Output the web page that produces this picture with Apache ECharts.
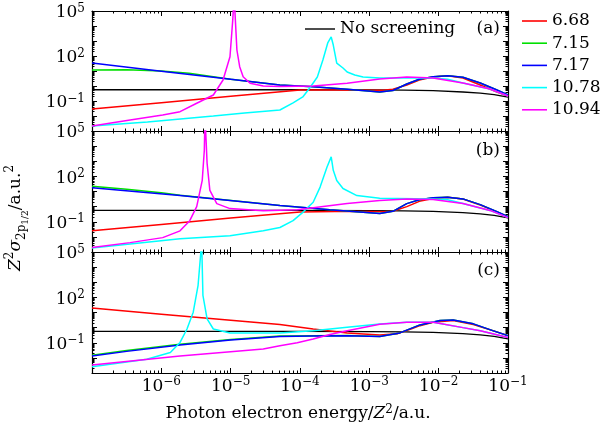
<!DOCTYPE html>
<html>
<head>
<meta charset="utf-8">
<script src="https://cdn.jsdelivr.net/npm/echarts@6/dist/echarts.min.js"></script>
<style>html,body{margin:0;padding:0;background:#fff}#c{width:605px;height:430px}</style>
</head>
<body>
<div id="c"></div>
<script>
// All values below are powers of ten (exponents).
// x = log10(photon energy / Z^2 in a.u.), y = log10(Z^2 sigma in a.u.)
const seriesNames = ['6.68', '7.15', '7.17', '10.78', '10.94'];
const blackName = 'No screening';
const xTickLabelExps = [-6, -5, -4, -3, -2, -1];
const yTickLabelExps = [5, 2, -1];
const panelLetters = ['(a)', '(b)', '(c)'];

// no screening (same in every panel)
const black_x = [-7, -6, -5, -4, -3, -2.5, -2.08, -1.65, -1.4, -1.2, -1];
const black_y = [-0.25, -0.25, -0.25, -0.25, -0.26, -0.28, -0.31, -0.4, -0.48, -0.58, -0.74];

// panel (a)
const a_red_x = [-7, -6, -5, -4, -3.5, -3, -2.8, -2.66, -2.46, -2.28, -2.08, -1.87, -1.65, -1.4, -1.16, -1];
const a_red_y = [-1.53, -1.11, -0.69, -0.27, -0.27, -0.28, -0.29, -0.22, 0.07, 0.4, 0.6, 0.69, 0.53, 0.07, -0.4, -0.67];
const a_green_x = [-7, -6.5, -6, -5.6, -5.25, -5, -4.29, -3.81, -3.32, -2.85, -2.66, -2.46, -2.28, -2.08, -1.87, -1.65, -1.4, -1.16, -1];
const a_green_y = [1.07, 1.08, 1.0, 0.85, 0.62, 0.45, 0.07, -0.05, -0.22, -0.4, -0.3, 0.13, 0.45, 0.62, 0.69, 0.58, 0.2, -0.27, -0.6];
const a_blue_x = [-7, -6, -5, -4.29, -3.81, -3.32, -2.85, -2.66, -2.46, -2.28, -2.08, -1.87, -1.65, -1.4, -1.16, -1];
const a_blue_y = [1.53, 0.99, 0.45, 0.07, -0.05, -0.22, -0.4, -0.3, 0.13, 0.45, 0.62, 0.69, 0.58, 0.2, -0.27, -0.6];
const a_cyan_x = [-7, -6.2, -5.25, -4.8, -4.29, -4.1, -3.96, -3.86, -3.75, -3.67, -3.6, -3.55, -3.52, -3.47, -3.38, -3.32, -3.21, -3.09, -2.85, -2.08, -1.87, -1.65, -1.26, -1];
const a_cyan_y = [-2.67, -2.4, -2.0, -1.8, -1.6, -1.13, -0.73, -0.13, 0.6, 1.73, 2.87, 3.27, 2.73, 1.53, 1.2, 0.93, 0.73, 0.6, 0.53, 0.53, 0.45, 0.2, -0.2, -0.67];
const a_magenta_x = [-7, -6.45, -5.98, -5.73, -5.49, -5.25, -5.11, -5.01, -4.97, -4.95, -4.91, -4.87, -4.82, -4.72, -4.53, -4.29, -3.81, -3.32, -2.85, -2.46, -2.08, -1.65, -1.26, -1];
const a_magenta_y = [-2.67, -2.27, -1.93, -1.71, -1.15, -0.6, 0.4, 1.95, 4.4, 6, 2.4, 1.29, 0.62, 0.18, 0.0, -0.04, 0.0, 0.18, 0.47, 0.6, 0.53, 0.2, -0.2, -0.67];

// panel (b)
const b_red_x = [-7, -6, -5, -4, -3.5, -3, -2.8, -2.66, -2.46, -2.28, -2.08, -1.87, -1.65, -1.4, -1.16, -1];
const b_red_y = [-1.6, -1.18, -0.76, -0.35, -0.33, -0.33, -0.34, -0.3, 0.0, 0.35, 0.53, 0.62, 0.5, 0.1, -0.35, -0.67];
const b_green_x = [-7, -6.5, -6, -5.73, -4.29, -3.57, -2.85, -2.66, -2.46, -2.28, -2.08, -1.87, -1.65, -1.4, -1.16, -1];
const b_green_y = [1.35, 1.15, 0.92, 0.75, 0.07, -0.2, -0.45, -0.31, 0.2, 0.45, 0.58, 0.62, 0.51, 0.13, -0.33, -0.67];
const b_blue_x = [-7, -5.73, -4.29, -3.57, -2.85, -2.66, -2.46, -2.28, -2.08, -1.87, -1.65, -1.4, -1.16, -1];
const b_blue_y = [1.25, 0.73, 0.07, -0.2, -0.45, -0.31, 0.2, 0.45, 0.58, 0.62, 0.51, 0.13, -0.33, -0.67];
const b_cyan_x = [-7, -6.45, -5.73, -5.01, -4.53, -4.29, -4.1, -3.96, -3.81, -3.71, -3.61, -3.55, -3.52, -3.47, -3.38, -3.18, -2.85, -2.08, -1.87, -1.65, -1.26, -1];
const b_cyan_y = [-2.73, -2.47, -2.13, -1.93, -1.6, -1.38, -0.93, -0.38, 0.29, 1.29, 2.62, 3.29, 2.4, 1.73, 1.2, 0.73, 0.55, 0.51, 0.45, 0.2, -0.25, -0.73];
const b_magenta_x = [-7, -6.45, -5.98, -5.73, -5.59, -5.49, -5.41, -5.38, -5.37, -5.34, -5.30, -5.2, -5.01, -4.53, -4.04, -3.81, -3.32, -2.85, -2.46, -2.08, -1.65, -1.26, -1];
const b_magenta_y = [-2.71, -2.38, -2.05, -1.6, -0.93, 0.0, 1.73, 3.73, 6, 2.87, 1.07, 0.2, -0.13, -0.27, -0.2, -0.07, 0.2, 0.4, 0.51, 0.47, 0.2, -0.25, -0.73];

// panel (c)
const c_red_x = [-7, -6, -5, -4.29, -3.81, -3.32, -2.85, -2.6, -2.4, -2.27, -2.08, -1.79, -1.5, -1.22, -1];
const c_red_y = [1.29, 0.88, 0.48, 0.2, -0.09, -0.35, -0.49, -0.4, -0.1, 0.13, 0.35, 0.47, 0.2, -0.2, -0.53];
const c_green_x = [-7, -6.5, -5.73, -5, -4.29, -3.81, -3.32, -2.85, -2.56, -2.27, -1.98, -1.79, -1.5, -1.22, -1];
const c_green_y = [-1.82, -1.52, -1.1, -0.78, -0.55, -0.53, -0.52, -0.58, -0.35, 0.18, 0.47, 0.51, 0.25, -0.2, -0.53];
const c_blue_x = [-7, -6.5, -5.73, -5, -4.29, -3.81, -3.32, -2.85, -2.56, -2.27, -1.98, -1.79, -1.5, -1.22, -1];
const c_blue_y = [-1.87, -1.57, -1.15, -0.82, -0.58, -0.55, -0.53, -0.58, -0.35, 0.18, 0.47, 0.51, 0.25, -0.2, -0.53];
const c_cyan_x = [-7, -6.21, -5.87, -5.73, -5.63, -5.54, -5.47, -5.43, -5.42, -5.40, -5.34, -5.25, -5.01, -4.29, -3.81, -3.32, -2.85, -2.46, -2.08, -1.65, -1.4, -1];
const c_cyan_y = [-2.58, -2.09, -1.64, -0.98, -0.09, 1.02, 2.8, 5.0, 6, 2.13, 0.58, -0.09, -0.35, -0.35, -0.2, 0.02, 0.24, 0.35, 0.35, 0.0, -0.2, -0.65];
const c_magenta_x = [-7, -5.73, -4.53, -4.29, -4.04, -3.81, -3.57, -3.32, -2.85, -2.46, -2.08, -1.65, -1.4, -1];
const c_magenta_y = [-2.47, -1.87, -1.42, -1.2, -1.0, -0.75, -0.45, -0.2, 0.22, 0.35, 0.35, 0.0, -0.2, -0.65];

const panels = [
  {red: [a_red_x, a_red_y], green: [a_green_x, a_green_y], blue: [a_blue_x, a_blue_y], cyan: [a_cyan_x, a_cyan_y], magenta: [a_magenta_x, a_magenta_y]},
  {red: [b_red_x, b_red_y], green: [b_green_x, b_green_y], blue: [b_blue_x, b_blue_y], cyan: [b_cyan_x, b_cyan_y], magenta: [b_magenta_x, b_magenta_y]},
  {red: [c_red_x, c_red_y], green: [c_green_x, c_green_y], blue: [c_blue_x, c_blue_y], cyan: [c_cyan_x, c_cyan_y], magenta: [c_magenta_x, c_magenta_y]}
];

const FONT = 'DejaVu Serif';
const FS = 17, FS_SUP = 12;
const X_MIN = -7, X_MAX = -1, Y_MIN = -3, Y_MAX = 5;
const gridTops = [11, 131, 252];
const gridHeights = [120, 121, 121];
const colors = {red: '#ff0000', green: '#00e000', blue: '#0000ff', cyan: '#00ffff', magenta: '#ff00ff'};
const colorKeys = ['red', 'green', 'blue', 'cyan', 'magenta'];

function minorVals(lo, hi) {
  const out = [];
  for (let n = lo; n < hi; n++) for (let k = 2; k <= 9; k++) out.push(n + Math.log10(k));
  return out;
}
const minorX = minorVals(X_MIN, X_MAX);
const minorY = minorVals(Y_MIN, Y_MAX);

const supRich = {
  b: {fontFamily: FONT, fontSize: FS, lineHeight: 21, padding: [4, 0, 0, 0], verticalAlign: 'bottom', color: '#000'},
  s: {fontFamily: FONT, fontSize: FS_SUP, lineHeight: 13, padding: [2, 0, 0, 0], verticalAlign: 'top', color: '#000'}
};
function powLabel(v, allowed) {
  const e = Math.round(Math.log10(v));
  if (allowed.indexOf(e) < 0) return '';
  return '{b|10}{s|' + (e < 0 ? '\u2212' : '') + Math.abs(e) + '}';
}

const lineAx = {show: true, onZero: false, lineStyle: {color: '#000', width: 1.2}};
const noLine = {show: false, onZero: false};
const majorTick = {show: true, inside: true, length: 5, lineStyle: {color: '#000', width: 1}};
const minorTickX = {show: true, inside: true, length: 2.5, customValues: minorX, lineStyle: {color: '#000', width: 1}};
const minorTickY = {show: true, inside: true, length: 2.5, customValues: minorY, lineStyle: {color: '#000', width: 1}};

const grids = [], xAxes = [], yAxes = [];
for (let g = 0; g < 3; g++) {
  grids.push({left: 92, right: 97, top: gridTops[g], height: gridHeights[g], containLabel: false, outerBoundsMode: 'none'});
  xAxes.push({type: 'log', logBase: 10, gridIndex: g, position: 'bottom', min: Math.pow(10, X_MIN), max: Math.pow(10, X_MAX), splitNumber: 6,
    axisLine: lineAx, axisTick: majorTick, splitLine: {show: false}, minorTick: {show: false},
    axisLabel: {show: g === 2, margin: 1, formatter: v => powLabel(v, xTickLabelExps), rich: supRich}});
  xAxes.push({type: 'value', gridIndex: g, position: 'bottom', min: X_MIN, max: X_MAX,
    axisLine: noLine, axisTick: minorTickX, splitLine: {show: false}, axisLabel: {show: false}});
  xAxes.push({type: 'log', logBase: 10, gridIndex: g, position: 'top', min: Math.pow(10, X_MIN), max: Math.pow(10, X_MAX), splitNumber: 6,
    axisLine: lineAx, axisTick: majorTick, splitLine: {show: false}, minorTick: {show: false}, axisLabel: {show: false}});
  xAxes.push({type: 'value', gridIndex: g, position: 'top', min: X_MIN, max: X_MAX,
    axisLine: noLine, axisTick: minorTickX, splitLine: {show: false}, axisLabel: {show: false}});

  yAxes.push({type: 'log', logBase: 10, gridIndex: g, position: 'left', min: Math.pow(10, Y_MIN), max: Math.pow(10, Y_MAX), splitNumber: 8,
    axisLine: lineAx, axisTick: majorTick, splitLine: {show: false}, minorTick: {show: false},
    axisLabel: {show: true, margin: 7, formatter: v => powLabel(v, yTickLabelExps), rich: supRich}});
  yAxes.push({type: 'value', gridIndex: g, position: 'left', min: Y_MIN, max: Y_MAX,
    axisLine: noLine, axisTick: minorTickY, splitLine: {show: false}, axisLabel: {show: false}});
  yAxes.push({type: 'log', logBase: 10, gridIndex: g, position: 'right', min: Math.pow(10, Y_MIN), max: Math.pow(10, Y_MAX), splitNumber: 8,
    axisLine: lineAx, axisTick: majorTick, splitLine: {show: false}, minorTick: {show: false}, axisLabel: {show: false}});
  yAxes.push({type: 'value', gridIndex: g, position: 'right', min: Y_MIN, max: Y_MAX,
    axisLine: noLine, axisTick: minorTickY, splitLine: {show: false}, axisLabel: {show: false}});
}

function mkSeries(name, color, xs, ys, g, w) {
  return {type: 'line', name: name, xAxisIndex: 4 * g, yAxisIndex: 4 * g,
    data: xs.map((x, i) => [Math.pow(10, x), Math.pow(10, ys[i])]),
    symbol: 'none', showSymbol: false, clip: true, silent: true, smooth: false,
    lineStyle: {color: color, width: w}, itemStyle: {color: color}, emphasis: {disabled: true}};
}

const series = [];
for (let g = 0; g < 3; g++) {
  series.push(mkSeries(blackName, '#000000', black_x, black_y, g, 1.3));
  colorKeys.forEach((k, i) => {
    const d = panels[g][k];
    series.push(mkSeries(seriesNames[i], colors[k], d[0], d[1], g, 1.5));
  });
}

const legendText = {fontFamily: FONT, fontSize: FS, lineHeight: 20, color: '#000'};
const option = {
  animation: false,
  backgroundColor: '#fff',
  grid: grids,
  xAxis: xAxes,
  yAxis: yAxes,
  legend: [
    {data: seriesNames, orient: 'vertical', left: 522, top: 11, padding: 0, icon: 'rect', itemWidth: 25, itemHeight: 1.6, itemGap: 2.2,
      selectedMode: false, textStyle: legendText},
    {data: [blackName], orient: 'vertical', left: 305, top: 19, padding: 0, icon: 'rect', itemWidth: 30, itemHeight: 1.4,
      selectedMode: false, textStyle: legendText}
  ],
  graphic: [
    {type: 'text', x: 500, y: 29, style: {text: panelLetters[0], fontFamily: FONT, fontSize: FS, fill: '#000', align: 'right', verticalAlign: 'middle'}},
    {type: 'text', x: 500, y: 151, style: {text: panelLetters[1], fontFamily: FONT, fontSize: FS, fill: '#000', align: 'right', verticalAlign: 'middle'}},
    {type: 'text', x: 500, y: 271, style: {text: panelLetters[2], fontFamily: FONT, fontSize: FS, fill: '#000', align: 'right', verticalAlign: 'middle'}},
    {type: 'text', x: 298, y: 412, style: {
      text: '{n|Photon electron energy/}{i|Z}{s|2}{n|/a.u.}',
      align: 'center', verticalAlign: 'middle', fontFamily: FONT, fontSize: FS, fill: '#000',
      rich: {
        n: {fontFamily: FONT, fontSize: FS, lineHeight: 21, padding: [4, 0, 0, 0], verticalAlign: 'bottom', fill: '#000'},
        i: {fontFamily: FONT, fontSize: FS, fontStyle: 'italic', lineHeight: 21, padding: [4, 0, 0, 0], verticalAlign: 'bottom', fill: '#000'},
        s: {fontFamily: FONT, fontSize: FS_SUP, lineHeight: 13, padding: [2, 0, 0, 0], verticalAlign: 'top', fill: '#000'}
      }}},
    {type: 'text', x: 16, y: 218, rotation: Math.PI / 2, style: {
      text: '{i|Z}{sp|2}{i|\u03c3}{sb|2p}{ssb|1/2}{n|/a.u.}{sp|2}',
      align: 'center', verticalAlign: 'middle', fontFamily: FONT, fontSize: FS, fill: '#000',
      rich: {
        n: {fontFamily: FONT, fontSize: FS, lineHeight: 30, verticalAlign: 'middle', fill: '#000'},
        i: {fontFamily: FONT, fontSize: FS, fontStyle: 'italic', lineHeight: 30, verticalAlign: 'middle', fill: '#000'},
        sp: {fontFamily: FONT, fontSize: FS_SUP, lineHeight: 13, padding: [3, 0, 0, 0], verticalAlign: 'top', fill: '#000'},
        sb: {fontFamily: FONT, fontSize: FS_SUP, lineHeight: 13, padding: [0, 0, 3, 0], verticalAlign: 'bottom', fill: '#000'},
        ssb: {fontFamily: FONT, fontSize: 9, lineHeight: 9, padding: [0, 0, 1, 0], verticalAlign: 'bottom', fill: '#000'}
      }}}
  ],
  series: series
};

const chart = echarts.init(document.getElementById('c'), null, {renderer: 'canvas', width: 605, height: 430});
chart.setOption(option);
</script>
</body>
</html>
